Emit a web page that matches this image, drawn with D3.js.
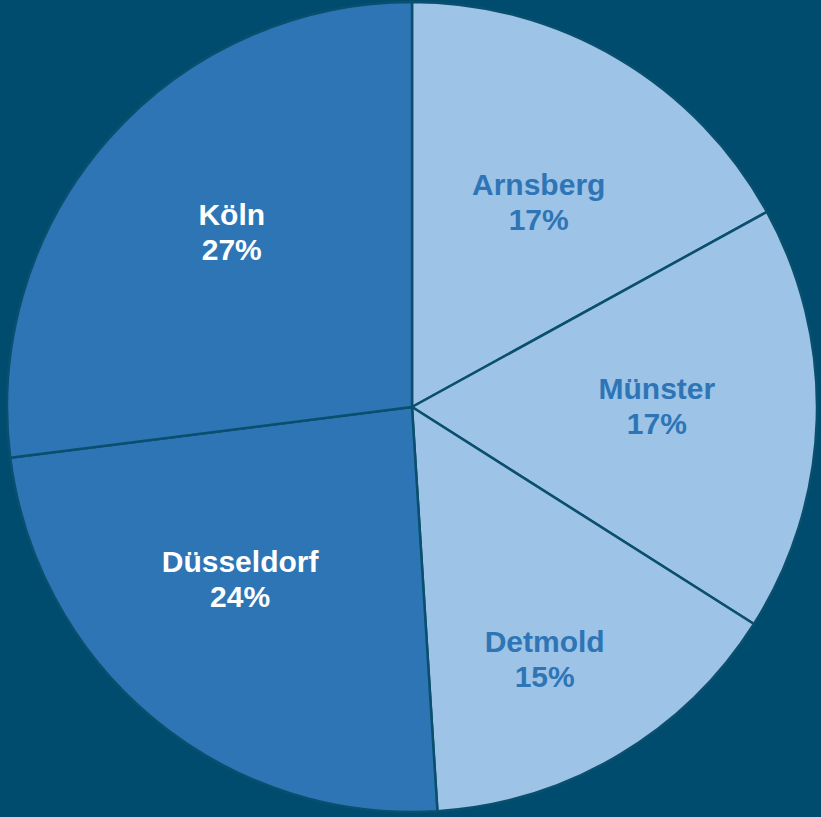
<!DOCTYPE html>
<html>
<head>
<meta charset="utf-8">
<script src="https://cdn.jsdelivr.net/npm/d3@7"></script>
<style>
  html, body { margin: 0; padding: 0; background: #004c6f; }
  svg { display: block; }
</style>
</head>
<body>
<svg id="chart" width="821" height="817"></svg>
<script>
const categories = ["Arnsberg", "Münster", "Detmold", "Düsseldorf", "Köln"];
const values = [17, 17, 15, 24, 27];
const percentLabels = ["17%", "17%", "15%", "24%", "27%"];

// styling / layout (not data)
const sliceColors = ["#9dc3e6", "#9dc3e6", "#9dc3e6", "#2e75b6", "#2e75b6"];
const labelColors = ["#2e75b6", "#2e75b6", "#2e75b6", "#ffffff", "#ffffff"];
const labelNudge = [[3, 4], [2, -9], [9, 43], [-17, -16], [2, -15]];

const W = 821, H = 817;
const cx = 412, cy = 407, R = 405;

const svg = d3.select("#chart");
svg.append("rect").attr("width", W).attr("height", H).attr("fill", "#004c6f");

const data = categories.map((c, i) => ({ name: c, value: values[i], label: percentLabels[i], i }));

const pie = d3.pie().value(d => d.value).sort(null);
const arcs = pie(data);
const arc = d3.arc().innerRadius(0).outerRadius(R);
const labelArc = d3.arc().innerRadius(R * 0.6).outerRadius(R * 0.6);

const g = svg.append("g").attr("transform", `translate(${cx},${cy})`);

g.selectAll("path")
  .data(arcs)
  .join("path")
  .attr("d", arc)
  .attr("fill", d => sliceColors[d.data.i])
  .attr("stroke", "#0a4f6e")
  .attr("stroke-width", 2.5)
  .attr("stroke-linejoin", "round");

const fs = 30, lh = 35;
const labels = g.selectAll("text.lbl")
  .data(arcs)
  .join("text")
  .attr("class", "lbl")
  .attr("transform", d => {
    const [x, y] = labelArc.centroid(d);
    const n = labelNudge[d.data.i];
    return `translate(${x + n[0]},${y + n[1]})`;
  })
  .attr("text-anchor", "middle")
  .attr("font-family", "'Liberation Sans', Arial, sans-serif")
  .attr("font-weight", "bold")
  .attr("font-size", fs)
  .attr("fill", d => labelColors[d.data.i]);

labels.append("tspan")
  .attr("x", 0)
  .attr("y", -lh / 2 + fs * 0.36)
  .text(d => d.data.name);
labels.append("tspan")
  .attr("x", 0)
  .attr("y", lh / 2 + fs * 0.36)
  .text(d => d.data.label);
</script>
</body>
</html>
